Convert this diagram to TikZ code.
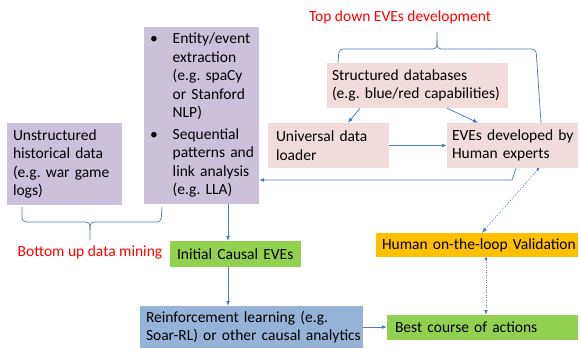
\documentclass[tikz,border=0pt]{standalone}
\usepackage{fontspec}
\setmainfont{Carlito}
\usetikzlibrary{arrows.meta,calc}
\definecolor{lavender}{HTML}{CCC1DA}
\definecolor{pinkbox}{HTML}{F2DCDB}
\definecolor{greenbox}{HTML}{92D050}
\definecolor{orangebox}{HTML}{FFC000}
\definecolor{bluebox}{HTML}{95B3D7}
\definecolor{linkblue}{HTML}{4A7EBB}
\frenchspacing
\hyphenpenalty = 10000
\exhyphenpenalty = 10000

\begin{document}
\begin{tikzpicture}
      [x = 1pt, y = -1pt,
      font = \fontsize{15.5}{18.5}\selectfont,
      box/.style = {
         inner xsep = 6pt,
         inner ysep = 0pt,
         align = left,
         text width = #1
      },
      link/.style = {
         draw = linkblue,
         line width = .75pt,
         -{Latex[length = 5pt, width = 4pt]}
      },
      check/.style = {
         draw = linkblue,
         line width = .75pt,
         dash pattern = on 1pt off 1.5pt,
         {Circle[length = 3pt]}-{Latex[length = 5pt, width = 4pt]}
      },
      brace/.style = {
         draw = linkblue!85!gray,
         line width = .75pt,
         rounded corners = 4pt
      },
      remark/.style = {text = red}]

      \useasboundingbox (0, 0) rectangle (580, 348);

      \node[box = 103, fill = lavender, minimum height = 82] (unstr) at (64.5, 164)
         {Unstructured\\historical data\\(e.g. war game\\logs)};
      \node[box = 103, fill = lavender, minimum height = 177] (extract) at (201.5, 115.5)
         {\begin{tabular}{@{}l@{\hspace{15pt}}l@{}}
            \textbullet & Entity/event\\
                        & extraction\\
                        & (e.g. spaCy\\
                        & or Stanford\\
                        & NLP)\\[3pt]
            \textbullet & Sequential\\
                        & patterns and\\
                        & link analysis\\
                        & (e.g. LLA)
          \end{tabular}};
      \node[box = 171, inner xsep = 5pt, fill = pinkbox, minimum height = 45] (struct) at (417.5, 85.5)
         {\mbox{Structured databases}\\\mbox{(e.g. blue/red capabilities)}};
      \node[box = 105, inner xsep = 8pt, fill = pinkbox, minimum height = 45] (loader) at (328.5, 145.5)
         {Universal data\\loader};
      \node[box = 121, inner xsep = 5pt, fill = pinkbox, minimum height = 45] (experts) at (512.5, 145.5)
         {\mbox{EVEs developed by}\\Human experts};
      \node[box = 117, inner xsep = 7pt, fill = greenbox, minimum height = 26] (initial) at (235.5, 254)
         {Initial Causal EVEs};
      \node[box = 190, inner xsep = 6pt, fill = orangebox, minimum height = 24] (validate) at (477, 245)
         {\mbox{Human on-the-loop Validation}};
      \node[box = 211, inner xsep = 6pt, fill = bluebox, minimum height = 42] (rl) at (251.5, 327)
         {Reinforcement learning (e.g.\\\mbox{Soar-RL) or other causal analytics}};
      \node[box = 175, inner xsep = 8pt, fill = greenbox, minimum height = 25] (best) at (482.5, 327.5)
         {Best course of actions};

      \draw[brace] (338, 63) -- (339, 49) -- (437, 49) -- (437, 32);
      \draw[brace] (437, 40) -- (437, 49) -- (536, 49) -- (541, 123);
      \node[remark] (topdown) at (400, 17) {Top down EVEs development};

      \draw[brace] (22, 207) -- (22, 222) -- (90, 222) -- (90, 240);
      \draw[brace] (90, 230) -- (90, 222) -- (161, 222) -- (162, 207);
      \node[remark] (bottomup) at (90, 252) {Bottom up data mining};

      \coordinate (a1) at ([xshift = 26.5]extract.south);
      \draw[link] (a1) -- (a1 |- initial.north);
      \coordinate (a2) at ([xshift = -7.5]initial.south);
      \draw[link] (a2) -- (a2 |- rl.north);
      \draw[link] (rl.east) -- (rl.east -| best.west);

      \draw[link] ([xshift = -57.5]struct.south) -- ([xshift = 19.5]loader.north);
      \draw[link] ([xshift = 29.5]struct.south) -- ([xshift = -34.5]experts.north);
      \draw[link] (loader) -- (experts);

      \coordinate (elbow) at (512, 180);
      \draw[link] ([xshift = 3.5]experts.south) -- (elbow) -- (elbow -| extract.east);

      \draw[check] ([xshift = 26.5]experts.south) -- ([xshift = 5]validate.north);
      \coordinate (a3) at ([xshift = 9]validate.south);
      \draw[check] (a3) -- (a3 |- best.north);

   \end{tikzpicture}
\end{document}
